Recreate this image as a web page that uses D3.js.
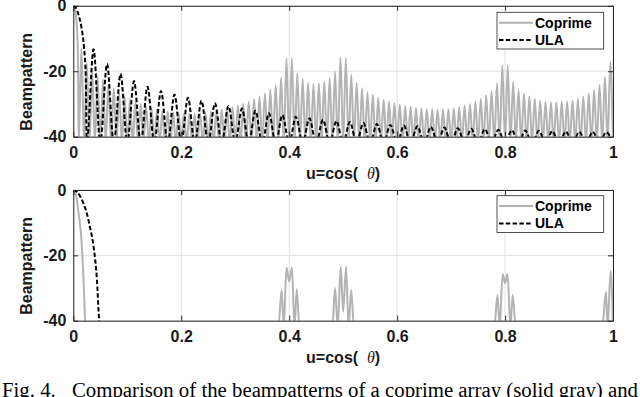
<!DOCTYPE html>
<html><head><meta charset="utf-8">
<script src="https://cdn.jsdelivr.net/npm/d3@7"></script>
<style>
html,body{margin:0;padding:0;background:#fff;}
svg{display:block;}
text{font-family:"Liberation Sans",Arial,Helvetica,sans-serif;}
</style></head><body>
<svg id="chart" width="640" height="397"></svg>
<script>
// ---------- data ----------
const xTicks = [0, 0.2, 0.4, 0.6, 0.8, 1];
const xTickLabels = ["0", "0.2", "0.4", "0.6", "0.8", "1"];
const yTicks = [0, -20, -40];
const yTickLabels = ["0", "-20", "-40"];
const seriesNames = ["Coprime", "ULA"];
const yLabel = "Beampattern";
const captionLead = "Fig. 4.";
const captionText = "Comparison of the beampatterns of a coprime array (solid gray) and";

// [u, dB] vertices (values below -40 are hidden nulls)
const coprimeTop = [
  [0,0],[0.003,-1.2],[0.006,-5],[0.0085,-14],[0.01,-42],
  [0.015,-13],[0.02,-42],[0.025,-17.5],[0.03,-42],[0.035,-20],[0.04,-42],[0.045,-21.5],[0.05,-42],
  [0.055,-22.5],[0.06,-42],[0.065,-24],[0.07,-42],[0.075,-25.2],[0.08,-42],[0.085,-26.5],[0.09,-42],
  [0.095,-27.5],[0.1,-42],[0.105,-28.5],[0.11,-42],[0.115,-29.3],[0.12,-42],[0.125,-30],[0.13,-42],
  [0.135,-30.8],[0.14,-42],[0.145,-31.3],[0.15,-42],[0.155,-31.8],[0.16,-42],[0.165,-32.2],[0.17,-42],
  [0.175,-32.4],[0.18,-42],[0.185,-32.6],[0.19,-42],[0.195,-32.8],[0.2,-42],[0.205,-33],[0.21,-42],
  [0.215,-33],[0.22,-42],[0.225,-33],[0.23,-42],[0.235,-32.8],[0.24,-42],[0.245,-32.6],[0.25,-42],
  [0.255,-32.4],[0.26,-42],[0.265,-32.1],[0.27,-42],[0.275,-31.8],[0.28,-42],[0.285,-31.4],[0.29,-42],
  [0.295,-31],[0.3,-42],[0.305,-30.5],[0.31,-42],[0.315,-30],[0.32,-42],[0.325,-29.3],[0.33,-42],
  [0.335,-28.5],[0.34,-42],[0.345,-27.7],[0.35,-42],[0.355,-26.8],[0.36,-42],[0.365,-25.6],[0.37,-42],
  [0.375,-24.2],[0.38,-42],[0.385,-22],[0.39,-42],[0.395,-16],[0.4,-42],[0.405,-16],[0.41,-42],
  [0.415,-20.6],[0.42,-42],[0.425,-22.4],[0.43,-42],[0.435,-23.5],[0.44,-42],[0.445,-23.9],[0.45,-42],
  [0.455,-23.7],[0.46,-42],[0.465,-23.2],[0.47,-42],[0.475,-22.1],[0.48,-42],[0.485,-20.1],[0.49,-42],
  [0.495,-15.7],[0.5,-42],[0.505,-16],[0.51,-42],[0.515,-21.1],[0.52,-42],[0.525,-23.7],[0.53,-42],
  [0.535,-25.2],[0.54,-42],[0.545,-26.5],[0.55,-42],[0.555,-27.2],[0.56,-42],[0.565,-28.2],[0.57,-42],
  [0.575,-28.8],[0.58,-42],[0.585,-29.3],[0.59,-42],[0.595,-29.8],[0.6,-42],[0.605,-30.2],[0.61,-42],
  [0.615,-30.6],[0.62,-42],[0.625,-30.9],[0.63,-42],[0.635,-31.2],[0.64,-42],[0.645,-31.4],[0.65,-42],
  [0.655,-31.6],[0.66,-42],[0.665,-31.7],[0.67,-42],[0.675,-31.8],[0.68,-42],[0.685,-31.7],[0.69,-42],
  [0.695,-31.6],[0.7,-42],[0.705,-31.4],[0.71,-42],[0.715,-31],[0.72,-42],[0.725,-30.5],[0.73,-42],
  [0.735,-30],[0.74,-42],[0.745,-29.3],[0.75,-42],[0.755,-28.4],[0.76,-42],[0.765,-27.3],[0.77,-42],
  [0.775,-26],[0.78,-42],[0.785,-23.7],[0.79,-42],[0.795,-18.2],[0.8,-42],[0.805,-18.2],[0.81,-42],
  [0.815,-23.2],[0.82,-42],[0.825,-25.7],[0.83,-42],[0.835,-26.8],[0.84,-42],[0.845,-27.7],[0.85,-42],
  [0.855,-28.4],[0.86,-42],[0.865,-29],[0.87,-42],[0.875,-29.3],[0.88,-42],[0.885,-29.5],[0.89,-42],
  [0.895,-29.5],[0.9,-42],[0.905,-29.3],[0.91,-42],[0.915,-29.3],[0.92,-42],[0.925,-28.9],[0.93,-42],
  [0.935,-28.4],[0.94,-42],[0.945,-27.7],[0.95,-42],[0.955,-26.8],[0.96,-42],[0.965,-25.7],[0.97,-42],
  [0.975,-24.2],[0.98,-42],[0.985,-21.6],[0.99,-42],[0.995,-17.2],[1,-42]
];

const ulaTop = [
  [0,0],[0.005,-0.7],[0.01,-2.9],[0.015,-6.5],[0.02,-13],[0.023,-21],[0.025,-42],
  [0.0375,-13.3],[0.05,-42],[0.0625,-17.8],[0.075,-42],[0.0875,-20.8],[0.1,-42],
  [0.1125,-23],[0.125,-42],[0.1375,-24.7],[0.15,-42],[0.1625,-26],[0.175,-42],
  [0.1875,-27.1],[0.2,-42],[0.2125,-28.1],[0.225,-42],[0.2375,-29],[0.25,-42],
  [0.2625,-29.8],[0.275,-42],[0.2875,-30.6],[0.3,-42],[0.3125,-31.4],[0.325,-42],
  [0.3375,-32.1],[0.35,-42],[0.3625,-32.8],[0.375,-42],[0.3875,-33.4],[0.4,-42],
  [0.4125,-33.9],[0.425,-42],[0.4375,-34.4],[0.45,-42],[0.4625,-34.8],[0.475,-42],
  [0.4875,-35.2],[0.5,-42],[0.5125,-35.5],[0.525,-42],[0.5375,-35.8],[0.55,-42],
  [0.5625,-36.1],[0.575,-42],[0.5875,-36.4],[0.6,-42],[0.6125,-36.6],[0.625,-42],
  [0.6375,-36.8],[0.65,-42],[0.6625,-37],[0.675,-42],[0.6875,-37.2],[0.7,-42],
  [0.7125,-37.4],[0.725,-42],[0.7375,-37.6],[0.75,-42],[0.7625,-37.7],[0.775,-42],
  [0.7875,-37.9],[0.8,-42],[0.8125,-38],[0.825,-42],[0.8375,-38.1],[0.85,-42],
  [0.8625,-38.2],[0.875,-42],[0.8875,-38.3],[0.9,-42],[0.9125,-38.4],[0.925,-42],
  [0.9375,-38.5],[0.95,-42],[0.9625,-38.5],[0.975,-42],[0.9875,-38.6],[1,-42]
];

const coprimeBottom = [
  [0,0],[0.0056,-2],[0.0098,-7.1],[0.016,-17.3],[0.019,-27.5],[0.022,-40],[0.024,-42],
  [0.38,-42],[0.386,-30.6],[0.39,-42],[0.395,-23.7],[0.4,-28],[0.405,-23.7],[0.41,-42],[0.414,-30.4],[0.419,-42],
  [0.48,-42],[0.485,-30.1],[0.49,-42],[0.4955,-23.5],[0.5,-37.2],[0.5055,-23.5],[0.51,-42],[0.515,-30.6],[0.52,-42],
  [0.78,-42],[0.786,-32.1],[0.79,-42],[0.7955,-25.7],[0.8,-28.5],[0.8045,-25.7],[0.81,-42],[0.814,-32.1],[0.82,-42],
  [0.98,-42],[0.987,-31.2],[0.99,-42],[0.9955,-24.7],[1,-42]
];

const ulaBottom = [
  [0,0],[0.007,-0.6],[0.013,-2],[0.019,-4.2],[0.025,-7.1],[0.031,-11.5],
  [0.0376,-17.3],[0.0438,-27.5],[0.048,-40],[0.05,-42],[1,-42]
];

// ---------- drawing ----------
const svg = d3.select("#chart");
const x = d3.scaleLinear().domain([0, 1]).range([73.3, 613]);
const panels = [
  {top: 5.8, bottom: 136.7, cop: coprimeTop, ula: ulaTop, legY: 12.3},
  {top: 190, bottom: 320.7, cop: coprimeBottom, ula: ulaBottom, legY: 195.7}
];
const axisColor = "#262626";
const gridColor = "#e2e2e2";
const grayColor = "#b3b3b3";

panels.forEach((p, i) => {
  const y = d3.scaleLinear().domain([-40, 0]).range([p.bottom, p.top]);
  const g = svg.append("g");

  // grid
  g.append("g").selectAll("line").data(xTicks).join("line")
    .attr("x1", d => x(d)).attr("x2", d => x(d))
    .attr("y1", p.top).attr("y2", p.bottom)
    .attr("stroke", gridColor).attr("stroke-width", 1);
  g.append("g").selectAll("line").data(yTicks).join("line")
    .attr("x1", x(0)).attr("x2", x(1))
    .attr("y1", d => y(d)).attr("y2", d => y(d))
    .attr("stroke", gridColor).attr("stroke-width", 1);

  const cid = "clip" + i;
  svg.append("clipPath").attr("id", cid).append("rect")
    .attr("x", x(0)).attr("y", p.top).attr("width", x(1) - x(0)).attr("height", p.bottom - p.top);

  const line = d3.line().x(d => x(d[0])).y(d => y(d[1])).curve(d3.curveMonotoneX);
  g.append("path").attr("d", line(p.cop)).attr("fill", "none")
    .attr("stroke", grayColor).attr("stroke-width", 2).attr("clip-path", `url(#${cid})`);
  g.append("path").attr("d", line(p.ula)).attr("fill", "none")
    .attr("stroke", "#000").attr("stroke-width", 2).attr("stroke-dasharray", "4.5,2.3")
    .attr("clip-path", `url(#${cid})`);

  // axes
  const fmtX = (d) => xTickLabels[xTicks.indexOf(d)];
  const fmtY = (d) => yTickLabels[yTicks.indexOf(d)];
  const ax = g.append("g").attr("transform", `translate(0,${p.bottom})`)
    .call(d3.axisBottom(x).tickValues(xTicks).tickFormat(fmtX).tickSizeInner(-5).tickSizeOuter(0).tickPadding(10));
  const at = g.append("g").attr("transform", `translate(0,${p.top})`)
    .call(d3.axisTop(x).tickValues(xTicks).tickFormat("").tickSizeInner(-5).tickSizeOuter(0));
  const ay = g.append("g").attr("transform", `translate(${x(0)},0)`)
    .call(d3.axisLeft(y).tickValues(yTicks).tickFormat(fmtY).tickSizeInner(-5).tickSizeOuter(0).tickPadding(7));
  const ar = g.append("g").attr("transform", `translate(${x(1)},0)`)
    .call(d3.axisRight(y).tickValues(yTicks).tickFormat("").tickSizeInner(-5).tickSizeOuter(0));
  [ax, at, ay, ar].forEach(a => {
    a.select(".domain").attr("stroke", axisColor).attr("stroke-width", 1);
    a.selectAll(".tick line").attr("stroke", axisColor).attr("stroke-width", 1);
    a.selectAll(".tick text").attr("fill", "#1a1a1a").style("font-size", "16px")
      .style("font-weight", "bold").style("font-family", '"Liberation Sans",Arial,sans-serif');
  });

  // y label
  g.append("text").attr("transform", `translate(32,${(p.top + p.bottom) / 2 + 10.5}) rotate(-90)`)
    .attr("text-anchor", "middle").style("font-size", "16px").style("font-weight", "bold")
    .attr("fill", "#1a1a1a").text(yLabel);

  // x label
  const xl = g.append("text").attr("x", (x(0) + x(1)) / 2).attr("y", p.bottom + 42.5)
    .attr("text-anchor", "middle").style("font-size", "16px").style("font-weight", "bold")
    .attr("fill", "#1a1a1a").attr("xml:space", "preserve");
  xl.append("tspan").text("u=cos(\u00a0\u00a0");
  xl.append("tspan").style("font-style", "italic").style("font-weight", "normal")
    .style("font-family", '"Liberation Serif","Times New Roman",serif').text("\u03b8");
  xl.append("tspan").text(")");

  // legend
  const lg = g.append("g").attr("transform", `translate(497,${p.legY})`);
  lg.append("rect").attr("x", 0).attr("y", 0).attr("width", 106.7).attr("height", 36.7)
    .attr("fill", "#fff").attr("stroke", axisColor).attr("stroke-width", 0.8);
  const styles = [{c: grayColor, dash: null}, {c: "#000", dash: "4.5,2.3"}];
  seriesNames.forEach((name, k) => {
    const yy = 10.4 + k * 17.4;
    const l = lg.append("line").attr("x1", 2).attr("x2", 36).attr("y1", yy).attr("y2", yy)
      .attr("stroke", styles[k].c).attr("stroke-width", 2);
    if (styles[k].dash) l.attr("stroke-dasharray", styles[k].dash);
    lg.append("text").attr("x", 38).attr("y", yy + 5).style("font-size", "14px")
      .style("font-weight", "bold").attr("fill", "#000").text(name);
  });
});

// caption
const cap = svg.append("text").attr("y", 397)
  .style("font-family", '"Liberation Serif","Times New Roman",serif').style("font-size", "20.8px").attr("fill", "#000");
cap.append("tspan").attr("x", 2).text(captionLead);
cap.append("tspan").attr("x", 72).text(captionText);
</script>
</body></html>
